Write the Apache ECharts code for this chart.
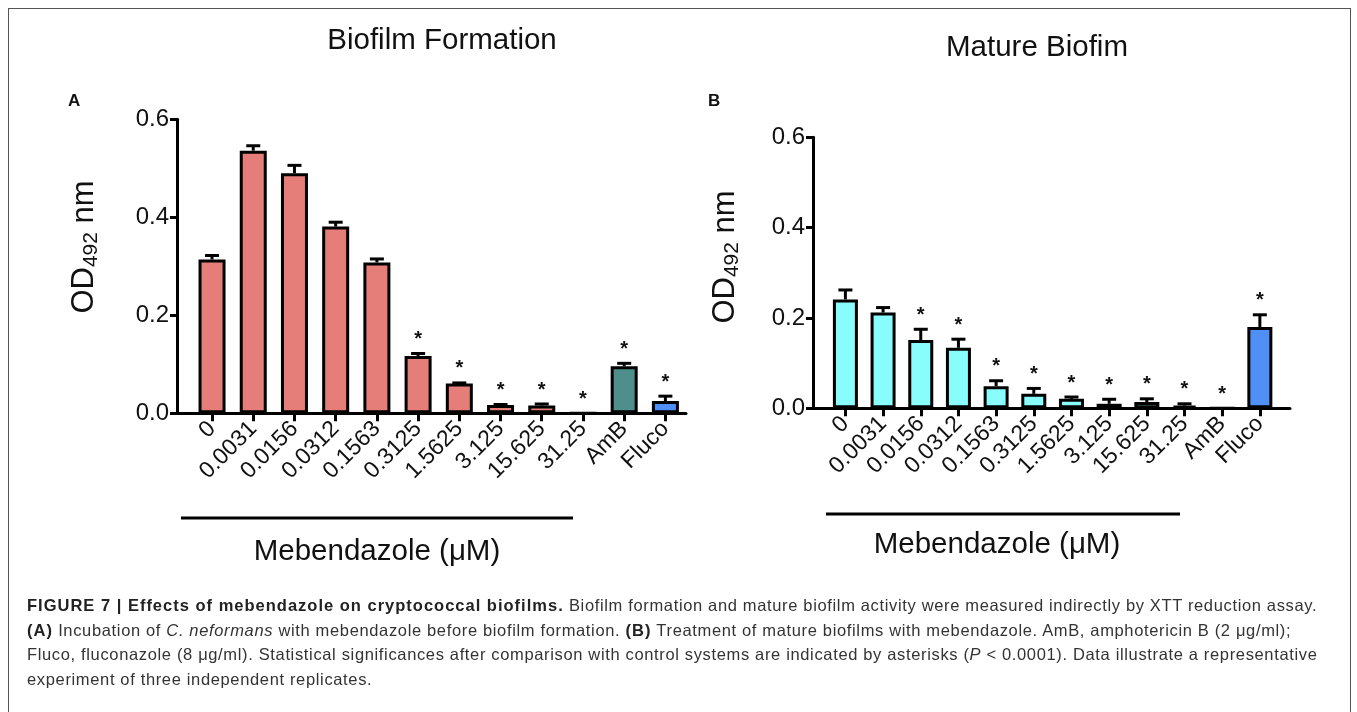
<!DOCTYPE html>
<html><head><meta charset="utf-8">
<script src="https://cdn.jsdelivr.net/npm/echarts@6/dist/echarts.min.js"></script>
<style>
html,body{margin:0;padding:0;background:#fff;width:1357px;height:712px;overflow:hidden;}
#frame{position:absolute;left:8px;top:8px;width:1343px;height:760px;border:1px solid #555;box-sizing:border-box;}
#chart{position:absolute;left:0;top:0;width:1357px;height:712px;}
#cap{position:absolute;left:27px;top:593px;font-family:"Liberation Sans",Arial,sans-serif;font-size:16.5px;letter-spacing:0.65px;line-height:24.6px;color:#333;white-space:nowrap;}
#cap b{color:#222;letter-spacing:1.0px;}
</style></head>
<body>
<div id="frame"></div>
<div id="chart"></div>
<div id="cap"><b>FIGURE 7 | Effects of mebendazole on cryptococcal biofilms.</b> Biofilm formation and mature biofilm activity were measured indirectly by XTT reduction assay.<br><b>(A)</b> Incubation of <i>C. neformans</i> with mebendazole before biofilm formation. <b>(B)</b> Treatment of mature biofilms with mebendazole. AmB, amphotericin B (2 μg/ml);<br>Fluco, fluconazole (8 μg/ml). Statistical significances after comparison with control systems are indicated by asterisks (<i>P</i> &lt; 0.0001). Data illustrate a representative<br>experiment of three independent replicates.</div>
<script>
// ---- data ----
const categories = ['0','0.0031','0.0156','0.0312','0.1563','0.3125','1.5625','3.125','15.625','31.25','AmB','Fluco'];
const meanA = [0.314,0.536,0.490,0.381,0.308,0.117,0.061,0.017,0.016,0,0.096,0.025];
const semA  = [0.008,0.010,0.016,0.009,0.007,0.005,0.001,0.001,0.003,0,0.006,0.010];
const sigA  = [0,0,0,0,0,1,1,1,1,1,1,1];
const meanB = [0.241,0.212,0.151,0.134,0.049,0.032,0.021,0.010,0.014,0.006,0,0.180];
const semB  = [0.021,0.011,0.024,0.019,0.012,0.012,0.004,0.010,0.007,0.004,0,0.027];
const sigB  = [0,0,1,1,1,1,1,1,1,1,1,1];
const yTicks = [0,0.2,0.4,0.6];

const salmon='#E57D78', teal='#4F8F8B', blue='#4F8FF6', cyan='#89FDFB';
const colorsA = categories.map((c,i)=> c==='AmB'?teal : c==='Fluco'?blue : salmon);
const colorsB = categories.map((c,i)=> c==='Fluco'?blue : cyan);
const FONT = '"Liberation Sans", Arial, Helvetica, sans-serif';

const chart = echarts.init(document.getElementById('chart'));
const idx = categories.map((c,i)=>i);

function xAxisCfg(gi, min, max){
  return {type:'value', gridIndex:gi, min:min, max:max,
    axisLine:{show:true, onZero:false, lineStyle:{color:'#000', width:3}},
    axisTick:{show:true, customValues:idx, length:8, lineStyle:{color:'#000', width:3}},
    axisLabel:{show:true, customValues:idx, rotate:45, margin:12, fontSize:23, fontFamily:FONT, color:'#111',
      formatter:(v)=>categories[Math.round(v)]},
    splitLine:{show:false}};
}
function yAxisCfg(gi){
  return {type:'value', gridIndex:gi, min:0, max:0.6, interval:0.2,
    axisLine:{show:true, onZero:false, lineStyle:{color:'#000', width:3}},
    axisTick:{show:true, length:7, lineStyle:{color:'#000', width:3}},
    axisLabel:{fontSize:24, fontFamily:FONT, color:'#111', margin:8, formatter:(v)=>v.toFixed(1)},
    splitLine:{show:false}};
}
function barSeries(gi, mean, colors, bw){
  return {type:'bar', xAxisIndex:gi, yAxisIndex:gi, barWidth:bw,
    data: mean.map((v,i)=>({value:[i,v], itemStyle:{color:colors[i]}})),
    itemStyle:{borderColor:'#000', borderWidth:3}, silent:true, z:2};
}
function errSeries(gi, mean, sem){
  return {type:'custom', xAxisIndex:gi, yAxisIndex:gi, z:3, silent:true,
    data: mean.map((v,i)=>[i, v, v+sem[i]]),
    renderItem:(params, api)=>{
      const p0 = api.coord([api.value(0), api.value(1)]);
      const p1 = api.coord([api.value(0), api.value(2)]);
      if (api.value(2) <= api.value(1)) return {type:'group', children:[]};
      return {type:'group', children:[
        {type:'line', shape:{x1:p0[0], y1:p0[1], x2:p1[0], y2:p1[1]}, style:{stroke:'#000', lineWidth:3}},
        {type:'line', shape:{x1:p1[0]-7, y1:p1[1], x2:p1[0]+7, y2:p1[1]}, style:{stroke:'#000', lineWidth:3}}
      ]};
    }};
}
function starSeries(gi, mean, sem, sig){
  return {type:'custom', xAxisIndex:gi, yAxisIndex:gi, z:4, silent:true,
    data: mean.map((v,i)=>[i, v+sem[i], sig[i]]),
    renderItem:(params, api)=>{
      if (!api.value(2)) return {type:'group', children:[]};
      const p = api.coord([api.value(0), api.value(1)]);
      return {type:'text', x:p[0], y:p[1]-4, style:{text:'*', fontSize:20, fontWeight:'bold', fontFamily:FONT,
        fill:'#111', align:'center', verticalAlign:'bottom'}};
    }};
}
const odRich = {
  a:{fontSize:31, fontFamily:FONT, fill:'#111', lineHeight:36},
  b:{fontSize:21, fontFamily:FONT, fill:'#111', lineHeight:20, verticalAlign:'bottom'}
};
function yName(x, y){
  return {type:'text', x:x, y:y, rotation:Math.PI/2,
    style:{text:'{a|OD}{b|492}{a| nm}', rich:odRich, align:'center', verticalAlign:'middle', fill:'#111', fontFamily:FONT}};
}

const option = {
  animation:false,
  grid:[
    {left:177, top:119.3, width:509, height:294},
    {left:813, top:137.3, width:477, height:271}
  ],
  xAxis:[xAxisCfg(0, -0.85, 11.5), xAxisCfg(1, -0.86, 11.8)],
  yAxis:[yAxisCfg(0), yAxisCfg(1)],
  series:[
    barSeries(0, meanA, colorsA, 27), errSeries(0, meanA, semA), starSeries(0, meanA, semA, sigA),
    barSeries(1, meanB, colorsB, 25), errSeries(1, meanB, semB), starSeries(1, meanB, semB, sigB)
  ],
  graphic:[
    {type:'text', x:442, y:41, style:{text:'Biofilm Formation', fontSize:29.5, fontFamily:FONT, fill:'#111', align:'center', verticalAlign:'middle'}},
    {type:'text', x:1037, y:48, style:{text:'Mature Biofim', fontSize:29.5, fontFamily:FONT, fill:'#111', align:'center', verticalAlign:'middle'}},
    {type:'text', x:68, y:101, style:{text:'A', fontSize:17, fontWeight:'bold', fontFamily:FONT, fill:'#111', align:'left', verticalAlign:'middle'}},
    {type:'text', x:708, y:101, style:{text:'B', fontSize:17, fontWeight:'bold', fontFamily:FONT, fill:'#111', align:'left', verticalAlign:'middle'}},
    yName(84, 247),
    yName(725, 257),
    {type:'line', shape:{x1:181, y1:518, x2:573, y2:518}, style:{stroke:'#000', lineWidth:3}},
    {type:'line', shape:{x1:826, y1:514, x2:1180, y2:514}, style:{stroke:'#000', lineWidth:3}},
    {type:'text', x:377, y:552, style:{text:'Mebendazole (μM)', fontSize:29.5, fontFamily:FONT, fill:'#111', align:'center', verticalAlign:'middle'}},
    {type:'text', x:997, y:545, style:{text:'Mebendazole (μM)', fontSize:29.5, fontFamily:FONT, fill:'#111', align:'center', verticalAlign:'middle'}}
  ]
};
chart.setOption(option);
</script>
</body></html>
